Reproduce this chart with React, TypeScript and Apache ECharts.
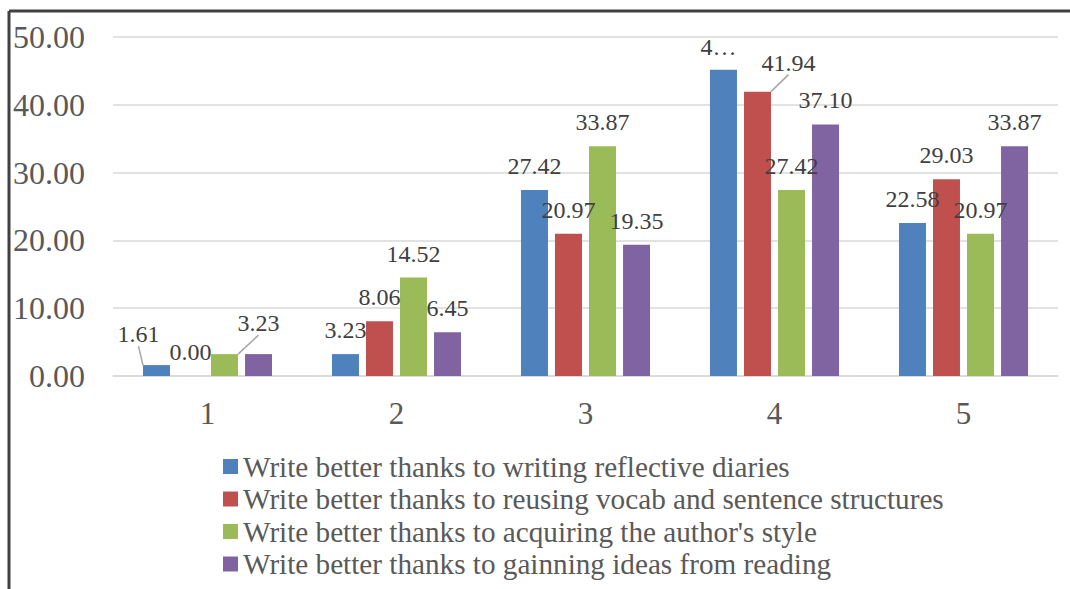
import React, { useEffect, useRef } from "react";
import * as echarts from "echarts";

const categories = ["1", "2", "3", "4", "5"];
const seriesNames = [
  "Write better thanks to writing reflective diaries",
  "Write better thanks to reusing vocab and sentence structures",
  "Write better thanks to acquiring the author's style",
  "Write better thanks to gainning ideas from reading",
];
const diaries = [1.61, 3.23, 27.42, 45.16, 22.58];
const reusing = [0.0, 8.06, 20.97, 41.94, 29.03];
const style = [3.23, 14.52, 33.87, 27.42, 20.97];
const ideas = [3.23, 6.45, 19.35, 37.1, 33.87];
const yTicks = [0, 10, 20, 30, 40, 50];

const colors = ["#4F81BD", "#C0504D", "#9BBB59", "#8064A2"];
const FONT = "'Liberation Serif', 'Times New Roman', serif";

// label nudges (series index -> data index -> [dx, dy, leaderLine])
const labelNudge: Record<number, Record<number, [number, number, boolean]>> = {
  0: { 0: [-18, -7, true], 3: [-5, 1, false] },
  2: { 0: [34, -7, true] },
  1: { 3: [31, -5, true] },
};
const hiddenLabels: Record<number, number[]> = { 3: [0] };
const truncatedLabels: Record<number, number[]> = { 0: [3] };

export default function App() {
  const ref = useRef<HTMLDivElement>(null);
  useEffect(() => {
    document.body.style.margin = "0";
    if (!ref.current) return;
    const chart = echarts.init(ref.current, undefined, { renderer: "svg" });
    const allValues = [diaries, reusing, style, ideas];
    const series = allValues.map((vals, si) => ({
      name: seriesNames[si],
      type: "bar",
      barWidth: 27,
      barGap: "26%",
      itemStyle: { color: colors[si] },
      label: {
        show: true,
        position: "top",
        distance: 12,
        fontFamily: FONT,
        fontSize: 24,
        color: "#404040",
        formatter: (p: any) => Number(p.value).toFixed(2),
      },
      labelLayout: (p: any) => {
        const n = labelNudge[si] && labelNudge[si][p.dataIndex];
        return n ? { dx: n[0], dy: n[1] } : {};
      },
      data: vals.map((v, di) => {
        const item: any = { value: v };
        const n = labelNudge[si] && labelNudge[si][di];
        if (n && n[2]) {
          item.labelLine = { show: true, lineStyle: { color: "#A6A6A6", width: 1.5 } };
        }
        if (hiddenLabels[si] && hiddenLabels[si].includes(di)) {
          item.label = { show: false };
        }
        if (truncatedLabels[si] && truncatedLabels[si].includes(di)) {
          item.label = { width: 42, overflow: "truncate", ellipsis: "…" };
        }
        return item;
      }),
    }));
    chart.setOption({
      animation: false,
      backgroundColor: "#ffffff",
      grid: { left: 113, right: 12, top: 37, bottom: 213, containLabel: false },
      xAxis: {
        type: "category",
        data: categories,
        axisLine: { show: true, lineStyle: { color: "#D9D9D9", width: 1.5 } },
        axisTick: { show: false },
        axisLabel: {
          fontFamily: FONT,
          fontSize: 31,
          color: "#595959",
          margin: 22,
        },
      },
      yAxis: {
        type: "value",
        min: yTicks[0],
        max: yTicks[yTicks.length - 1],
        interval: 10,
        axisLine: { show: false },
        axisTick: { show: false },
        splitLine: { lineStyle: { color: "#D9D9D9", width: 1.5 } },
        axisLabel: {
          fontFamily: FONT,
          fontSize: 32,
          color: "#595959",
          margin: 28,
          formatter: (v: number) => v.toFixed(2),
        },
      },
      legend: {
        orient: "vertical",
        left: 218,
        top: 447,
        itemWidth: 15,
        itemHeight: 15,
        itemGap: 3.5,
        icon: "rect",
        textStyle: {
          fontFamily: FONT,
          fontSize: 29.2,
          color: "#595959",
          lineHeight: 29,
          padding: [0, 0, 0, 0],
        },
        data: seriesNames,
      },
      graphic: [
        { type: "line", shape: { x1: 9, y1: 11, x2: 1070, y2: 11 }, style: { stroke: "#404040", lineWidth: 3 } },
        { type: "line", shape: { x1: 9, y1: 11, x2: 9, y2: 589 }, style: { stroke: "#404040", lineWidth: 3 } },
      ],
      series,
    });
    return () => chart.dispose();
  }, []);
  return <div ref={ref} style={{ width: 1070, height: 589 }} />;
}
